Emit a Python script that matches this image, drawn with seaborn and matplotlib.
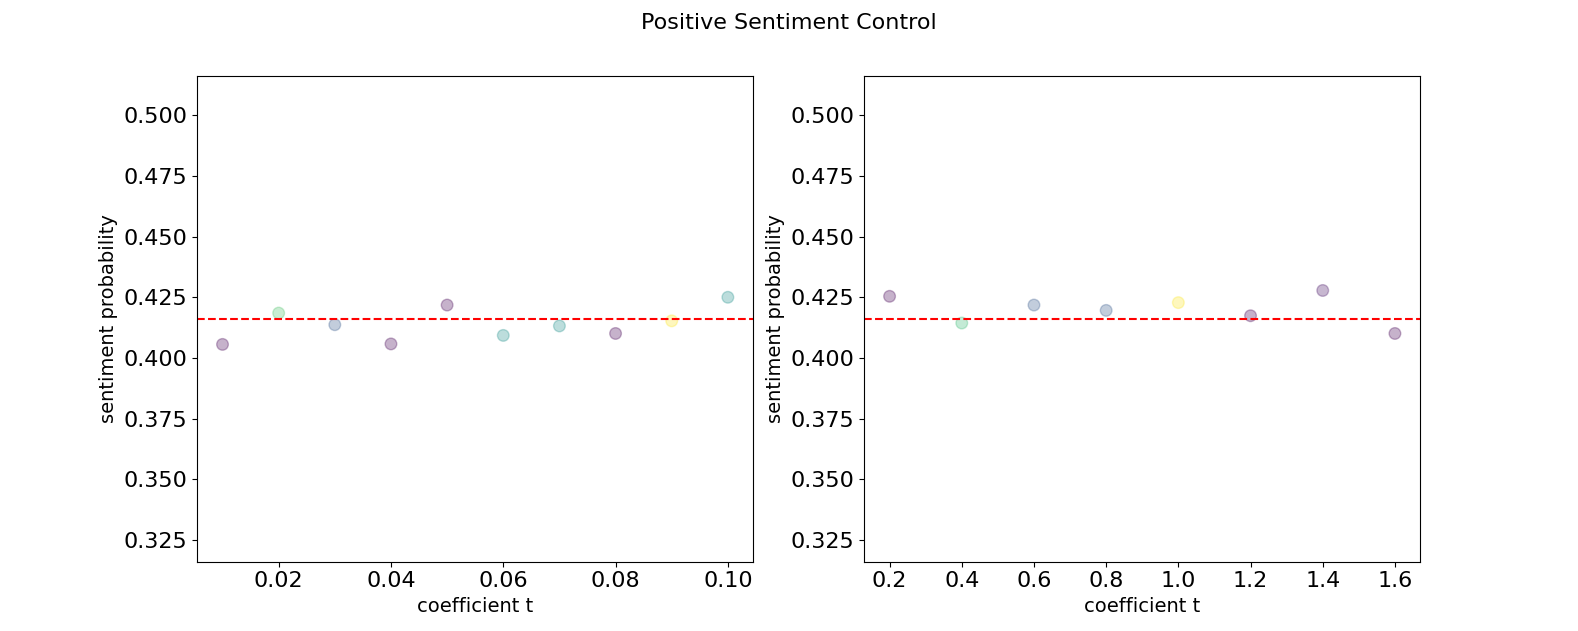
import numpy as np
import pandas as pd
import seaborn as sns
import matplotlib
matplotlib.use('Agg')
import matplotlib.pyplot as plt

# baseline sentiment probability (red dashed line)
baseline = 0.4162

# left panel: small coefficients
t_small = [0.01, 0.02, 0.03, 0.04, 0.05, 0.06, 0.07, 0.08, 0.09, 0.10]
prob_small = [0.4056, 0.4185, 0.4137, 0.4058, 0.4218, 0.4093, 0.4132, 0.4101, 0.4153, 0.4250]
col_small = [0.0, 0.72, 0.28, 0.0, 0.0, 0.5, 0.5, 0.0, 1.0, 0.5]

# right panel: large coefficients
t_large = [0.2, 0.4, 0.6, 0.8, 1.0, 1.2, 1.4, 1.6]
prob_large = [0.4254, 0.4144, 0.4218, 0.4196, 0.4228, 0.4174, 0.4278, 0.4101]
col_large = [0.0, 0.68, 0.28, 0.28, 1.0, 0.0, 0.05, 0.0]

fig, axes = plt.subplots(1, 2, figsize=(15.78, 6.31), dpi=100)

panels = [(t_small, prob_small, col_small), (t_large, prob_large, col_large)]
for ax, (t, p, c) in zip(axes, panels):
    df = pd.DataFrame({'t': t, 'p': p, 'c': c})
    sns.scatterplot(data=df, x='t', y='p', hue='c', palette='viridis', hue_norm=(0, 1),
                    alpha=0.3, s=70, edgecolor='face', linewidth=1, legend=False, ax=ax)
    ax.axhline(baseline, color='red', linestyle='--')
    ax.set_ylim(baseline - 0.1, baseline + 0.1)
    ax.set_xlabel('coefficient t', fontsize=14)
    ax.set_ylabel('sentiment probability', fontsize=14)
    ax.tick_params(labelsize=16)

axes[0].set_xticks([0.02, 0.04, 0.06, 0.08, 0.10])
axes[0].set_xticklabels(['0.02', '0.04', '0.06', '0.08', '0.10'])
axes[1].set_xticks([0.2, 0.4, 0.6, 0.8, 1.0, 1.2, 1.4, 1.6])
axes[1].set_xticklabels(['0.2', '0.4', '0.6', '0.8', '1.0', '1.2', '1.4', '1.6'])
for ax in axes:
    ax.set_yticks([0.325, 0.350, 0.375, 0.400, 0.425, 0.450, 0.475, 0.500])
    ax.set_yticklabels(['0.325', '0.350', '0.375', '0.400', '0.425', '0.450', '0.475', '0.500'])

fig.suptitle('Positive Sentiment Control', fontsize=16)
fig.savefig('out.png', dpi=100)
